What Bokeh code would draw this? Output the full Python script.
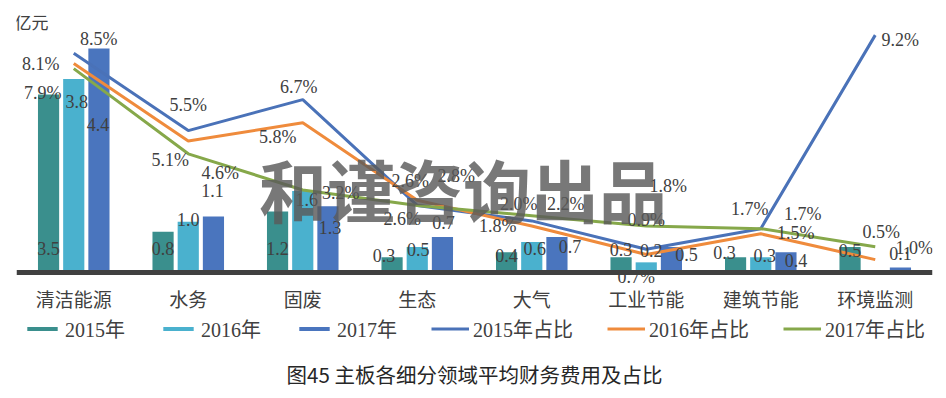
from bokeh.plotting import figure
from bokeh.models import (ColumnDataSource, FactorRange, Range1d, Legend, LegendItem,
                          Label, Span)
from bokeh.transform import dodge
from bokeh.core.properties import value
from bokeh.embed import file_html
from bokeh.resources import INLINE

# ---------------- data ----------------
categories = ["清洁能源", "水务", "固废", "生态", "大气", "工业节能", "建筑节能", "环境监测"]
cost_2015 = [3.5, 0.8, 1.2, 0.3, 0.4, 0.3, 0.3, 0.5]
cost_2016 = [3.8, 1.0, 1.6, 0.5, 0.6, 0.2, 0.3, None]
cost_2017 = [4.4, 1.1, 1.3, 0.7, 0.7, 0.5, 0.4, 0.1]
share_2015 = [8.5, 5.5, 6.7, 2.6, 2.0, 0.9, 1.7, 9.2]
share_2016 = [8.1, 5.1, 5.8, 2.8, 1.8, 0.7, 1.5, 0.5]
share_2017 = [7.9, 4.6, 3.2, 2.6, 2.2, 1.8, 1.7, 1.0]
series_names = ["2015年", "2016年", "2017年", "2015年占比", "2016年占比", "2017年占比"]
unit_label = "亿元"
chart_title = "图45 主板各细分领域平均财务费用及占比"
watermark = "和谨咨询出品"

# ---------------- label placement (screen px offsets) ----------------
lab15_dx = [0, 0, 0, -8, 0, 0, -11, 0]
lab15_dy = [-24, -24, -24, -17, -17, -23, -20, -22]
lab16_dx = [3, 0, 4, 1, 3, 5, 4, 0]
lab16_dy = [22, -2, 8, 2, 7, -12, -2, 0]
lab17_dx = [-1, -1, 2, 1, 13, 15, 10, 0]
lab17_dy = [76, -26, 21, -14, 10, 7, 8, -14]
sh15_dx = [25, 0, -4, -7, -13, 0, -11, 25]
sh15_dy = [-14, -26, -13, -24, -17, -29, -20, 5]
sh16_dx = [-33, -18, -25, 39, -34, -10, 35, 6]
sh16_dy = [1, 19, 14, -24, 0, 23, -1, -28]
sh17_dx = [-31, 32, 38, -15, 34, 22, 42, 39]
sh17_dy = [24, 19, 3, 14, -12, -40, -15, 1]

# ---------------- styles ----------------
C15, C16, C17 = "#3A8F8D", "#4AB1CE", "#4A75BE"
L15, L16, L17 = "#4A72B8", "#EF8B3C", "#86A84A"
TXT = "#404040"
SERIF = "Liberation Serif, Noto Sans CJK SC"
CJK = "Noto Sans CJK SC"
OFF = 0.22
BW = 0.185
Y_TOP, Y_BOT = 5.05, -2.318          # primary (亿元) range incl. area below the axis
K = 9.96 / 5.05                      # secondary (%) scale factor

p = figure(x_range=FactorRange(factors=categories, range_padding=0),
           y_range=Range1d(Y_BOT, Y_TOP),
           width=938, height=390, output_backend="svg", toolbar_location=None,
           x_axis_location=None, y_axis_location=None,
           min_border_left=16, min_border_right=6, min_border_top=15, min_border_bottom=0)
p.extra_y_ranges = {"pct": Range1d(Y_BOT * K, Y_TOP * K)}
p.outline_line_color = None
p.grid.visible = False
p.background_fill_color = "white"
p.border_fill_color = "white"


def bar_source(vals, dx, dy):
    top = [v if v is not None else float("nan") for v in vals]
    txt = ["" if v is None else f"{v:.1f}" for v in vals]
    return ColumnDataSource(dict(cat=categories, top=top, txt=txt, dx=dx, dy=dy,
                                 zero=[0] * len(categories)))


s15 = bar_source(cost_2015, lab15_dx, lab15_dy)
s16 = bar_source(cost_2016, lab16_dx, lab16_dy)
s17 = bar_source(cost_2017, lab17_dx, lab17_dy)

r15 = p.vbar(x=dodge("cat", -OFF, range=p.x_range), top="top", bottom=0, width=BW,
             source=s15, fill_color=C15, line_color=None)
r16 = p.vbar(x=dodge("cat", 0, range=p.x_range), top="top", bottom=0, width=BW,
             source=s16, fill_color=C16, line_color=None)
r17 = p.vbar(x=dodge("cat", OFF, range=p.x_range), top="top", bottom=0, width=BW,
             source=s17, fill_color=C17, line_color=None)

# category axis line
p.add_layout(Span(location=0, dimension="width", line_color="#404040", line_width=5))


def line_source(vals, dx, dy):
    return ColumnDataSource(dict(cat=categories, v=vals, txt=[f"{v:.1f}%" for v in vals],
                                 dx=dx, dy=dy))


t15 = line_source(share_2015, sh15_dx, sh15_dy)
t16 = line_source(share_2016, sh16_dx, sh16_dy)
t17 = line_source(share_2017, sh17_dx, sh17_dy)

g15 = p.line(x="cat", y="v", source=t15, y_range_name="pct", line_color=L15, line_width=3)
g16 = p.line(x="cat", y="v", source=t16, y_range_name="pct", line_color=L16, line_width=3)
g17 = p.line(x="cat", y="v", source=t17, y_range_name="pct", line_color=L17, line_width=3)

common = dict(text="txt", x_offset="dx", y_offset="dy", text_align="center",
              text_baseline="middle", text_font=value("Liberation Serif"),
              text_font_size="18px", text_color=TXT)
p.text(x=dodge("cat", -OFF, range=p.x_range), y="zero", source=s15, **common)
p.text(x=dodge("cat", 0, range=p.x_range), y="top", source=s16, **common)
p.text(x=dodge("cat", OFF, range=p.x_range), y="top", source=s17, **common)
p.text(x="cat", y="v", source=t15, y_range_name="pct", **common)
p.text(x="cat", y="v", source=t16, y_range_name="pct", **common)
p.text(x="cat", y="v", source=t17, y_range_name="pct", **common)

# category labels below the axis line
p.text(x="cat", y="zero", text="cat", source=s15, y_offset=26, text_align="center",
       text_baseline="middle", text_font=value(CJK), text_font_size="19px",
       text_color=TXT)

p.add_layout(Label(x=0.13, y=4.93, text=unit_label, text_align="center",
                   text_baseline="middle", text_font=CJK, text_font_size="17px",
                   text_color=TXT))
p.add_layout(Label(x=3.9, y=1.65, text=watermark, text_align="center",
                   text_baseline="middle", text_font=CJK, text_font_size="68px",
                   text_font_style="bold", text_color="#5a5a5a", text_alpha=0.82))
p.add_layout(Label(x=4.0, y=-2.0, text=chart_title, text_align="center",
                   text_baseline="middle", text_font=CJK, text_font_size="20.5px",
                   text_color="#262626"))

legend = Legend(items=[LegendItem(label=series_names[0], renderers=[r15]),
                       LegendItem(label=series_names[1], renderers=[r16]),
                       LegendItem(label=series_names[2], renderers=[r17]),
                       LegendItem(label=series_names[3], renderers=[g15]),
                       LegendItem(label=series_names[4], renderers=[g16]),
                       LegendItem(label=series_names[5], renderers=[g17])],
                orientation="horizontal", location="bottom_center",
                glyph_width=38, glyph_height=5, label_standoff=4, spacing=34,
                label_text_font=SERIF, label_text_font_size="20px",
                label_text_color=TXT, border_line_color=None,
                background_fill_alpha=0, padding=0, margin=47)
p.add_layout(legend, "center")

open("out.html", "w").write(file_html(p, INLINE))
